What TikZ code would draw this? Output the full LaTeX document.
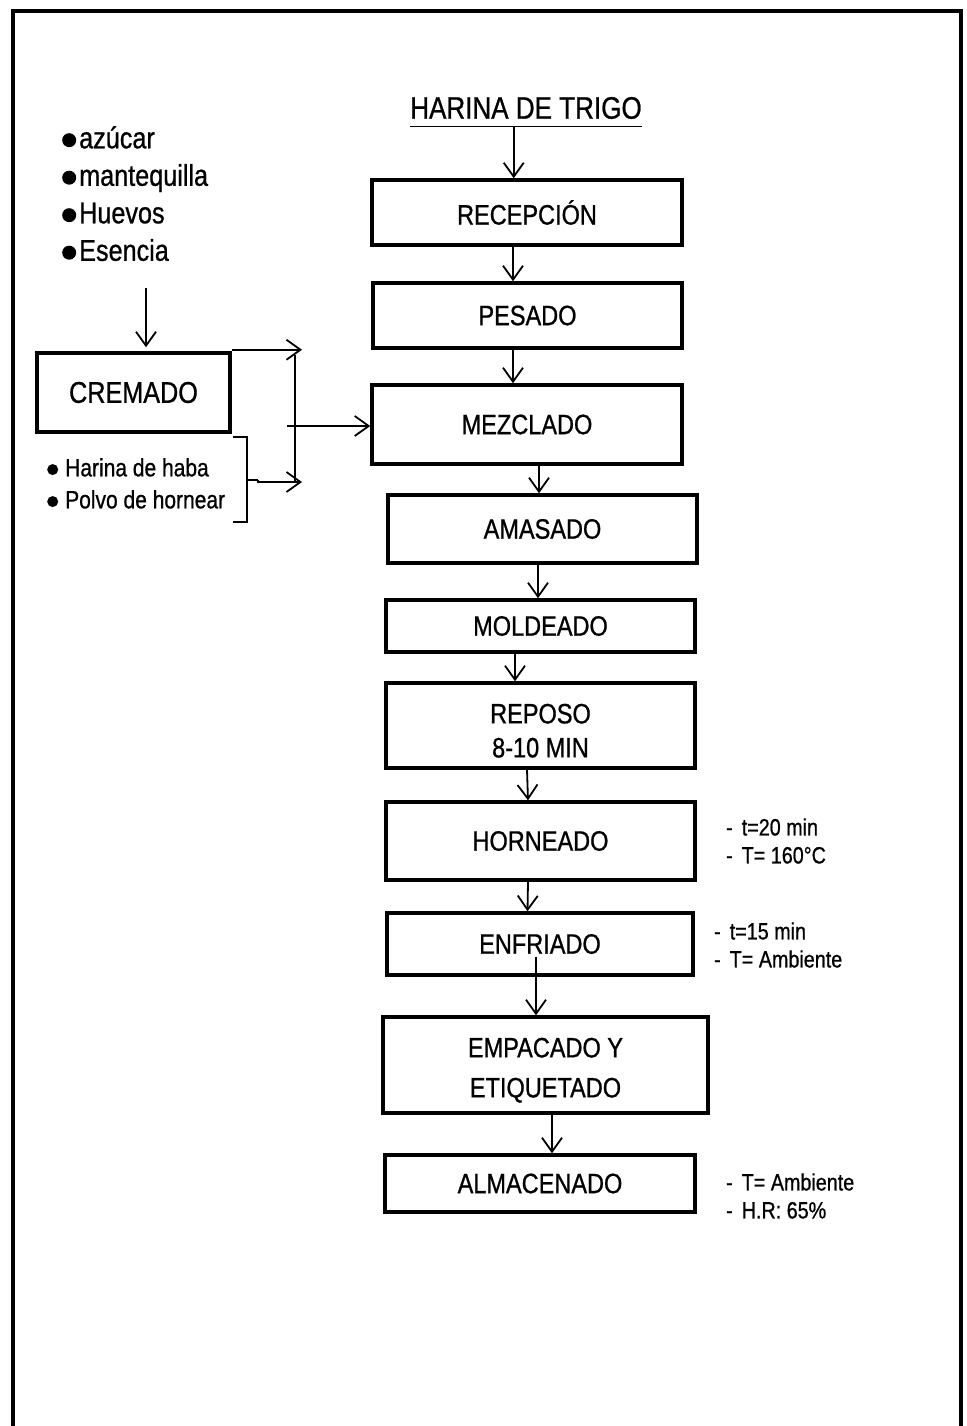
\documentclass[tikz,border=0pt]{standalone}
\usepackage{fontspec}
\setmainfont{Liberation Sans}[FakeStretch=0.84,FakeBold=0.8]
\usetikzlibrary{arrows.meta,calc}
\newcommand\bigbul{\raisebox{\dimexpr0.27em-7pt\relax}{\tikz\fill (0,0) circle (7pt);}}
\newcommand\smbul{\raisebox{\dimexpr0.27em-5.5pt\relax}{\tikz\fill (0,0) circle (5.5pt);}}
\begin{document}
\begin{tikzpicture}[x=1pt,y=-1pt,
  pbox/.style={draw, line width=3.5pt, inner sep=0pt, align=center,
    font=\fontsize{28}{34}\selectfont},
  arr/.style={line width=1.8pt, -{Straight Barb[length=14pt,width=20pt,line width=1.8pt]}},
  plain/.style={line width=1.8pt},
  ingr/.style={align=left, inner sep=0pt, anchor=north west},
  note/.style={align=left, inner sep=0pt, anchor=west, font=\fontsize{23.5}{28}\selectfont}
]
\useasboundingbox (0,0) rectangle (966,1426);
% frame
\draw[line width=4pt] (13,1426) -- (13,11) -- (961,11) -- (961,1426);

% title
\node[inner sep=0pt, font=\fontsize{31}{34}\selectfont] (har) at (526,108) {HARINA DE TRIGO};
\draw[line width=1.3pt] ($(har.south west)+(0,7)$) coordinate (ul1) -- ($(har.south east)+(0,7)$) coordinate (ul2);
\coordinate (hs) at ($(ul1)!0.447!(ul2)$);

% main boxes
\node[pbox, minimum width=310pt, minimum height=65pt] (rec) at (527,212.5) {RECEPCIÓN};
\node[pbox, minimum width=309pt, minimum height=65pt] (pes) at (527.5,315.5) {PESADO};
\node[pbox, minimum width=310pt, minimum height=79pt] (mez) at (527,424.5) {MEZCLADO};
\node[pbox, minimum width=309pt, minimum height=68pt] (ama) at (542.5,529) {AMASADO};
\node[pbox, minimum width=309pt, minimum height=52pt] (mol) at (540.5,626) {MOLDEADO};
\node[pbox, minimum width=309pt, minimum height=85pt] (rep) at (540.5,725.5) {\rule{0pt}{30pt}REPOSO\\8-10 MIN};
\node[pbox, minimum width=309pt, minimum height=78pt] (hor) at (540.5,841) {HORNEADO};
\node[pbox, minimum width=306pt, minimum height=62pt] (enf) at (540,944) {ENFRIADO};
\node[pbox, minimum width=325pt, minimum height=96pt, font=\fontsize{28}{40}\selectfont] (emp) at (545.5,1065) {\rule{0pt}{30pt}EMPACADO Y\\ETIQUETADO};
\node[pbox, minimum width=310pt, minimum height=57pt] (alm) at (540,1183.5) {ALMACENADO};
\node[pbox, minimum width=193pt, minimum height=79pt, font=\fontsize{30}{34}\selectfont] (crem) at (133.5,392.5) {CREMADO};

% main flow arrows
\draw[arr] (hs) -- (hs |- rec.north);
\draw[arr] ([xshift=-14pt]rec.south) -- ([xshift=-14.5pt]pes.north);
\draw[arr] ([xshift=-14.5pt]pes.south) -- ([xshift=-14pt]mez.north);
\draw[arr] ([xshift=12pt]mez.south) -- ([xshift=-3.5pt]ama.north);
\draw[arr] ([xshift=-4.5pt]ama.south) -- ([xshift=-2.5pt]mol.north);
\draw[arr] ([xshift=-25.5pt]mol.south) -- ([xshift=-25.5pt]rep.north);
\draw[arr] ([xshift=-13.5pt]rep.south) -- ([xshift=-12.5pt]hor.north);
\draw[arr] ([xshift=-12.5pt]hor.south) -- ([xshift=-12.5pt]enf.north);
\draw[arr] ($(enf.south)+(-4,-20)$) -- ([xshift=-9.5pt]emp.north);
\draw[arr] ([xshift=6.5pt]emp.south) -- ([xshift=12pt]alm.north);

% ingredients top-left
\node[ingr, font=\fontsize{30}{37.5}\selectfont] (ing1) at (62,126)
  {\bigbul\hspace{3pt}azúcar\\\bigbul\hspace{3pt}mantequilla\\\bigbul\hspace{3pt}Huevos\\\bigbul\hspace{3pt}Esencia};
\draw[arr] ($(crem.north)+(12.5,-63)$) -- ($(crem.north)+(12.5,-4)$);

% ingredients second
\node[ingr, font=\fontsize{25}{32}\selectfont] (ing2) at (47,458)
  {\smbul\hspace{7pt}Harina de haba\\\smbul\hspace{7pt}Polvo de hornear};
\coordinate (brt) at (233,437);
\coordinate (brb) at (233,522);
\draw[plain] (brt) -- (247,437) -- (247,522) -- (brb);
\draw[plain] (247,480) -- (258,480) coordinate (brm);
\coordinate (j1) at (302,355);
\coordinate (j2) at (302,482);
\draw[arr] ([yshift=1.5pt]crem.north east) -- ([yshift=1.5pt]crem.north east -| j1);
\draw[arr] (brm) -- (258,482) -- (j2);
\draw[plain] (295,355) -- (295,482);
\draw[arr] (287,426) -- (mez.west |- 287,426);

% notes
\node[note] (n1) at (726,841) {-\hspace{9pt}t=20 min\\-\hspace{9pt}T= 160°C};
\node[note] (n2) at (714,945) {-\hspace{9pt}t=15 min\\-\hspace{9pt}T= Ambiente};
\node[note] (n3) at (726,1196) {-\hspace{9pt}T= Ambiente\\-\hspace{9pt}H.R: 65\%};
\end{tikzpicture}
\end{document}
